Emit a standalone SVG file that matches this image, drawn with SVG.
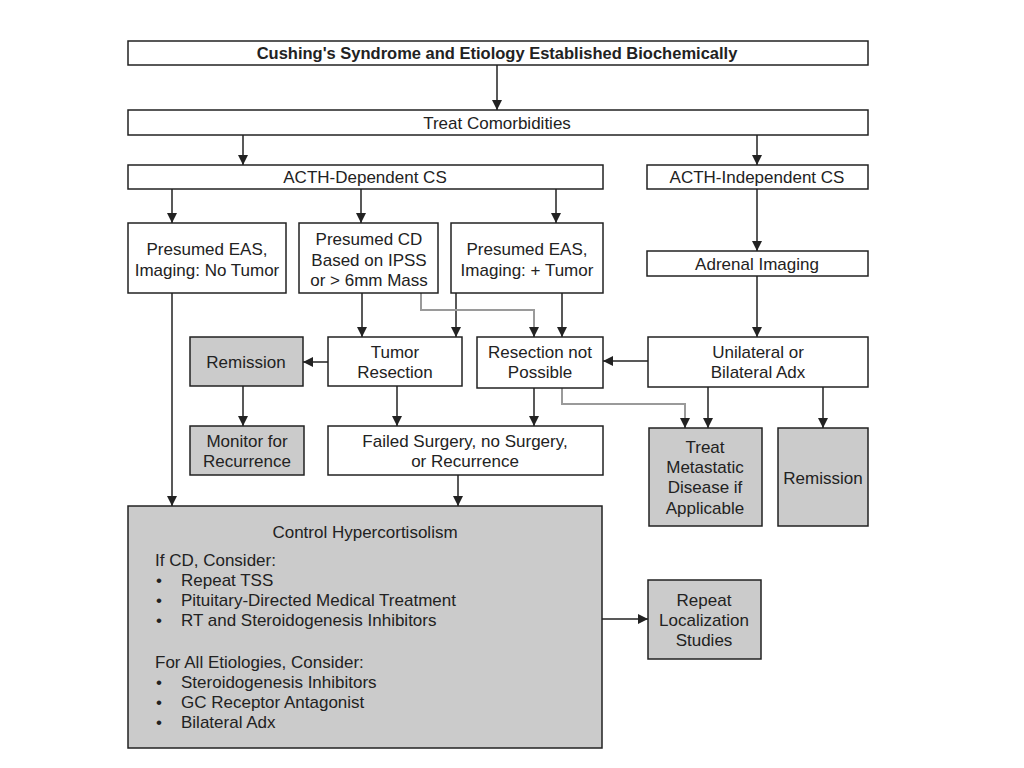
<svg xmlns="http://www.w3.org/2000/svg" width="1024" height="768" viewBox="0 0 1024 768">
<style>
.b{fill:#fff;stroke:#222;stroke-width:1.5}
.g{fill:#cbcbcb;stroke:#222;stroke-width:1.5}
text{font-family:"Liberation Sans",Arial,sans-serif;font-size:17px;fill:#222}
.c{text-anchor:middle}
.t{font-size:16.5px;font-weight:600}
.l{stroke:#222;stroke-width:1.5;fill:none}
.gl{stroke:#9a9a9a;stroke-width:2;fill:none}
</style>
<defs>
<marker id="a" markerUnits="userSpaceOnUse" markerWidth="10" markerHeight="12" refX="10" refY="5" orient="auto" viewBox="0 0 10 10">
<path d="M0,0 L10,5 L0,10 Z" fill="#222"/>
</marker>
</defs>
<rect width="1024" height="768" fill="#fff"/>
<g id="connectors">
<path class="l" d="M497,65 V110" marker-end="url(#a)"/>
<path class="l" d="M243,135 V165" marker-end="url(#a)"/>
<path class="l" d="M757,135 V165" marker-end="url(#a)"/>
<path class="l" d="M172,189 V223" marker-end="url(#a)"/>
<path class="l" d="M361,189 V223" marker-end="url(#a)"/>
<path class="l" d="M556,189 V223" marker-end="url(#a)"/>
<path class="l" d="M757,189 V251" marker-end="url(#a)"/>
<path class="l" d="M757,276 V337" marker-end="url(#a)"/>
<path class="l" d="M362,293 V337" marker-end="url(#a)"/>
<path class="l" d="M456,293 V337" marker-end="url(#a)"/>
<path class="gl" d="M421,293 V310 H534 V330"/>
<path class="l" d="M534,328 V337" marker-end="url(#a)"/>
<path class="l" d="M562,293 V337" marker-end="url(#a)"/>
<path class="l" d="M328,362 H303" marker-end="url(#a)"/>
<path class="l" d="M648,361 H603" marker-end="url(#a)"/>
<path class="l" d="M243,386 V426" marker-end="url(#a)"/>
<path class="l" d="M397,386 V426" marker-end="url(#a)"/>
<path class="l" d="M534,388 V426" marker-end="url(#a)"/>
<path class="gl" d="M562,388 V404 H685 V420"/>
<path class="l" d="M685,418 V428" marker-end="url(#a)"/>
<path class="l" d="M708,387 V428" marker-end="url(#a)"/>
<path class="l" d="M823,387 V428" marker-end="url(#a)"/>
<path class="l" d="M172,293 V506" marker-end="url(#a)"/>
<path class="l" d="M458,475 V506" marker-end="url(#a)"/>
<path class="l" d="M602,619 H648" marker-end="url(#a)"/>
</g>
<g id="n1"><rect class="b" x="128" y="41" width="740" height="24"/><text class="c t" x="497" y="59">Cushing's Syndrome and Etiology Established Biochemically</text></g>
<g id="n2"><rect class="b" x="128" y="110" width="740" height="25"/><text class="c" x="497" y="129">Treat Comorbidities</text></g>
<g id="n3"><rect class="b" x="128" y="165" width="475" height="24"/><text class="c" x="365" y="183">ACTH-Dependent CS</text></g>
<g id="n4"><rect class="b" x="647" y="165" width="221" height="24"/><text class="c" x="757" y="183">ACTH-Independent CS</text></g>
<g id="n5"><rect class="b" x="128" y="223" width="158" height="70"/><text class="c" x="207" y="255">Presumed EAS,</text><text class="c" x="207" y="276">Imaging: No Tumor</text></g>
<g id="n6"><rect class="b" x="299" y="223" width="139" height="70"/><text class="c" x="369" y="245">Presumed CD</text><text class="c" x="369" y="266">Based on IPSS</text><text class="c" x="369" y="286">or &gt; 6mm Mass</text></g>
<g id="n7"><rect class="b" x="451" y="223" width="152" height="70"/><text class="c" x="527" y="255">Presumed EAS,</text><text class="c" x="527" y="276">Imaging: + Tumor</text></g>
<g id="n8"><rect class="b" x="647" y="251" width="221" height="25"/><text class="c" x="757" y="270">Adrenal Imaging</text></g>
<g id="n9"><rect class="g" x="190" y="337" width="113" height="49"/><text class="c" x="246" y="368">Remission</text></g>
<g id="n10"><rect class="b" x="328" y="337" width="134" height="49"/><text class="c" x="395" y="358">Tumor</text><text class="c" x="395" y="378">Resection</text></g>
<g id="n11"><rect class="b" x="477" y="337" width="126" height="51"/><text class="c" x="540" y="358">Resection not</text><text class="c" x="540" y="378">Possible</text></g>
<g id="n12"><rect class="b" x="648" y="337" width="220" height="50"/><text class="c" x="758" y="358">Unilateral or</text><text class="c" x="758" y="378">Bilateral Adx</text></g>
<g id="n13"><rect class="g" x="190" y="426" width="114" height="49"/><text class="c" x="247" y="447">Monitor for</text><text class="c" x="247" y="467">Recurrence</text></g>
<g id="n14"><rect class="b" x="328" y="426" width="275" height="49"/><text class="c" x="465" y="447">Failed Surgery, no Surgery,</text><text class="c" x="465" y="467">or Recurrence</text></g>
<g id="n15"><rect class="g" x="649" y="428" width="113" height="98"/><text class="c" x="705" y="453">Treat</text><text class="c" x="705" y="473">Metastatic</text><text class="c" x="705" y="493">Disease if</text><text class="c" x="705" y="514">Applicable</text></g>
<g id="n16"><rect class="g" x="778" y="428" width="90" height="98"/><text class="c" x="823" y="484">Remission</text></g>
<g id="n17"><rect class="g" x="128" y="506" width="474" height="242"/>
<text class="c" x="365" y="538">Control Hypercortisolism</text>
<text x="155" y="566">If CD, Consider:</text>
<text x="156" y="586">•</text><text x="181" y="586">Repeat TSS</text>
<text x="156" y="606">•</text><text x="181" y="606">Pituitary-Directed Medical Treatment</text>
<text x="156" y="626">•</text><text x="181" y="626">RT and Steroidogenesis Inhibitors</text>
<text x="155" y="668">For All Etiologies, Consider:</text>
<text x="156" y="688">•</text><text x="181" y="688">Steroidogenesis Inhibitors</text>
<text x="156" y="708">•</text><text x="181" y="708">GC Receptor Antagonist</text>
<text x="156" y="728">•</text><text x="181" y="728">Bilateral Adx</text>
</g>
<g id="n18"><rect class="g" x="648" y="580" width="113" height="79"/><text class="c" x="704" y="606">Repeat</text><text class="c" x="704" y="626">Localization</text><text class="c" x="704" y="646">Studies</text></g>
</svg>
